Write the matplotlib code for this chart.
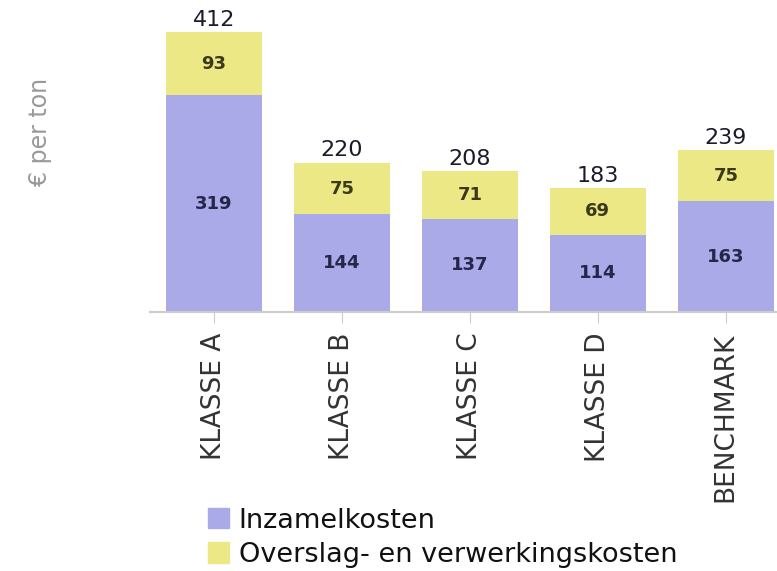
import matplotlib.pyplot as plt
from matplotlib.patches import Patch

# ── DATA ──────────────────────────────────────────────────────────────────
categories = ["KLASSE A", "KLASSE B", "KLASSE C", "KLASSE D", "BENCHMARK"]
inzamel = [319, 144, 137, 114, 163]
overslag = [93, 75, 71, 69, 75]
totals = [412, 220, 208, 183, 239]

c_inz = "#aaaae8"
c_ovr = "#ece886"

# ── PLOT ──────────────────────────────────────────────────────────────────
fig = plt.figure(figsize=(7.77, 5.71), dpi=100)
ax = fig.add_axes([150 / 777, 1 - 312 / 571, 1 - 150 / 777, 312 / 571])

x = range(len(categories))
ax.bar(x, inzamel, width=0.75, color=c_inz)
ax.bar(x, overslag, bottom=inzamel, width=0.75, color=c_ovr)

for i in x:
    ax.text(i, inzamel[i] / 2, str(inzamel[i]), ha="center", va="center",
            fontsize=13, fontweight="bold", color="#26264a")
    ax.text(i, inzamel[i] + overslag[i] / 2, str(overslag[i]), ha="center",
            va="center", fontsize=13, fontweight="bold", color="#3a3a1a")
    ax.text(i, totals[i] + 3, str(totals[i]), ha="center", va="bottom",
            fontsize=16, color="#1a1a2a", clip_on=False)

ax.set_xlim(-0.5, 4.4)
ax.set_ylim(0, 459)
ax.set_xticks(list(x))
ax.set_xticklabels(categories, rotation=90, fontsize=19, color="#333333")
ax.tick_params(axis="x", length=8, color="#cccccc", pad=7)
ax.set_yticks([])
for s in ["top", "right", "left"]:
    ax.spines[s].set_visible(False)
ax.spines["bottom"].set_color("#cccccc")
ax.spines["bottom"].set_linewidth(1.5)

fig.text(40 / 777, 1 - 132 / 571, "€ per ton", rotation=90, ha="center",
         va="center", fontsize=17, color="#999999")

handles = [Patch(color=c_inz), Patch(color=c_ovr)]
fig.legend(handles, ["Inzamelkosten", "Overslag- en verwerkingskosten"],
           loc="upper left", bbox_to_anchor=(194 / 777, 1 - 494 / 571),
           frameon=False, fontsize=19.5, handlelength=0.8, handleheight=0.8,
           handletextpad=0.35, labelspacing=0.32, borderpad=0,
           labelcolor="#111111")

plt.savefig("out.png", dpi=100)
